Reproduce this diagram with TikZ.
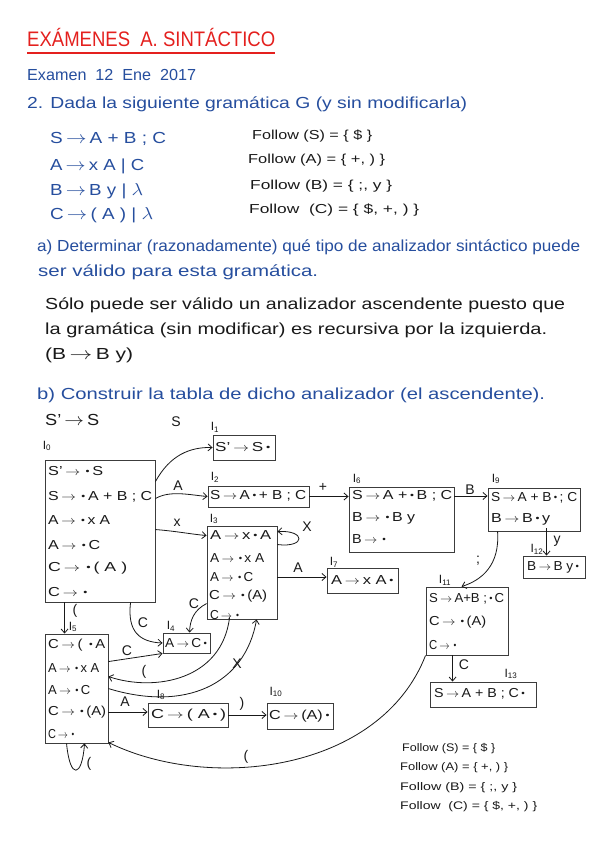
\documentclass[tikz,border=0pt]{standalone}
\usepackage{fontspec}
\setmainfont{Liberation Sans}
\usepackage{graphicx}
\usetikzlibrary{calc,arrows.meta}
\definecolor{tred}{RGB}{228,32,30}
\definecolor{tblue}{RGB}{38,78,158}
\definecolor{ink}{RGB}{25,25,25}
\newcommand\fitw[2]{\resizebox{#1}{\height}{#2}}
\newcommand\ra{\,$\rightarrow$\,}
\newcommand\dt{\,\raisebox{0.15ex}{\scalebox{0.7}{\textbullet}}\,}
\begin{document}
\begin{tikzpicture}[x=1pt,y=-1pt,
  btxt/.style={anchor=west,inner sep=0pt,text=tblue,font=\fontsize{16}{18}\selectfont},
  ktxt/.style={anchor=west,inner sep=0pt,text=ink,font=\fontsize{16}{18}\selectfont},
  ftxt/.style={anchor=west,inner sep=0pt,text=ink,font=\fontsize{13}{15}\selectfont},
  box/.style={draw=ink!85,line width=0.9pt,inner sep=0pt},
  item/.style={anchor=west,inner sep=0pt,text=ink,font=\fontsize{13}{15}\selectfont},
  lab/.style={inner sep=0pt,text=ink,font=\fontsize{12}{14}\selectfont},
  elab/.style={inner sep=0pt,text=ink,font=\fontsize{14}{16}\selectfont},
  edge/.style={draw=ink,line width=0.8pt,-{Straight Barb[length=4pt,width=7pt]}}]
\fill[white] (0,0) rectangle (599,848);
\useasboundingbox (0,0) rectangle (599,848);
% ---------- header ----------
\node[anchor=west,inner sep=0pt,text=tred,font=\fontsize{21}{24}\selectfont] (title) at (27,37) {\fitw{248pt}{EXÁMENES\ \ A. SINTÁCTICO}};
\draw[tred,line width=1.6pt] (title.south west |- 0,53) coordinate (ul1) -- (title.south east |- 0,53) coordinate (ul2);
\node[btxt] (ex) at (27,75) {\fitw{169pt}{Examen \ 12 \ Ene \ 2017}};
\node[btxt] (q2) at (27,104) {\fitw{440pt}{2. Dada la siguiente gramática G (y sin modificarla)}};
\node[btxt] (g1) at (50,139) {\fitw{116pt}{S\ra A + B ; C}};
\node[btxt] (g2) at (50,166) {\fitw{94pt}{A\ra x A | C}};
\node[btxt] (g3) at (50,191) {\fitw{93pt}{B\ra B y | $\lambda$}};
\node[btxt] (g4) at (50,215) {\fitw{103pt}{C\ra ( A ) | $\lambda$}};
\node[ftxt] (f1) at (252,136) {\fitw{120pt}{Follow (S) = \{ \$ \}}};
\node[ftxt] (f2) at (248,160) {\fitw{137pt}{Follow (A) = \{ +, ) \}}};
\node[ftxt] (f3) at (250,186) {\fitw{142pt}{Follow (B) = \{ ;, y \}}};
\node[ftxt] (f4) at (249,210) {\fitw{170pt}{Follow \ (C) = \{ \$, +, ) \}}};
\node[btxt] (qa1) at (37,247) {\fitw{543pt}{a) Determinar (razonadamente) qué tipo de analizador sintáctico puede}};
\node[btxt] (qa2) at (38,272) {\fitw{280pt}{ser válido para esta gramática.}};
\node[ktxt] (ra1) at (45,305) {\fitw{520pt}{Sólo puede ser válido un analizador ascendente puesto que}};
\node[ktxt] (ra2) at (45,330) {\fitw{502pt}{la gramática (sin modificar) es recursiva por la izquierda.}};
\node[ktxt] (ra3) at (45,355) {\fitw{88pt}{(B\ra B y)}};
\node[btxt] (qb) at (37,395) {\fitw{508pt}{b) Construir la tabla de dicho analizador (el ascendente).}};
\node[ktxt] (aug) at (45,420) {\fitw{54pt}{S'\ra S}};
% ---------- boxes ----------
\node[box,minimum width=110pt,minimum height=142pt] (I0) at (100,531) {};
\node[box,minimum width=62pt,minimum height=25pt] (I1) at (244,447.5) {};
\node[box,minimum width=101pt,minimum height=21pt] (I2) at (258.5,496.5) {};
\node[box,minimum width=70pt,minimum height=93pt] (I3) at (242,572.5) {};
\node[box,minimum width=47pt,minimum height=20pt] (I4) at (186.5,643) {};
\node[box,minimum width=63pt,minimum height=109pt] (I5) at (76.5,688.5) {};
\node[box,minimum width=105pt,minimum height=65pt] (I6) at (401.5,519.5) {};
\node[box,minimum width=71pt,minimum height=25pt] (I7) at (362.5,580.5) {};
\node[box,minimum width=80pt,minimum height=24pt] (I8) at (188,715) {};
\node[box,minimum width=92pt,minimum height=43pt] (I9) at (534,509.5) {};
\node[box,minimum width=66pt,minimum height=26pt] (I10) at (300,716) {};
\node[box,minimum width=82pt,minimum height=68pt] (I11) at (467,621) {};
\node[box,minimum width=62pt,minimum height=22pt] (I12) at (554,567) {};
\node[box,minimum width=106pt,minimum height=25pt] (I13) at (483,694.5) {};
% ---------- state labels ----------
\node[lab] (n0) at (47,446) {I\textsubscript{0}};
\node[lab] (n1) at (215,427) {I\textsubscript{1}};
\node[lab] (n2) at (215,477) {I\textsubscript{2}};
\node[lab] (n3) at (214,519) {I\textsubscript{3}};
\node[lab] (n4) at (171,626) {I\textsubscript{4}};
\node[lab] (n5) at (73,627) {I\textsubscript{5}};
\node[lab] (n6) at (357,479) {I\textsubscript{6}};
\node[lab] (n7) at (334,562) {I\textsubscript{7}};
\node[lab] (n8) at (161,695) {I\textsubscript{8}};
\node[lab] (n9) at (496,479) {I\textsubscript{9}};
\node[lab] (n10) at (276,692) {I\textsubscript{10}};
\node[lab] (n11) at (445,580) {I\textsubscript{11}};
\node[lab] (n12) at (537,549) {I\textsubscript{12}};
\node[lab] (n13) at (511,674) {I\textsubscript{13}};
% ---------- items ----------
\node[item] (i0a) at (48,471) {\fitw{55pt}{S'\ra\dt S}};
\node[item] (i0b) at (48,497) {\fitw{104pt}{S\ra\dt A + B ; C}};
\node[item] (i0c) at (48,520) {\fitw{62pt}{A\ra\dt x A}};
\node[item] (i0d) at (48,545) {\fitw{52pt}{A\ra\dt C}};
\node[item] (i0e) at (48,568) {\fitw{79pt}{C\ra\dt ( A )}};
\node[item] (i0f) at (48,592) {\fitw{42pt}{C\ra\dt}};
\node[item] (i1a) at (215,447) {\fitw{58pt}{S'\ra S\dt}};
\node[item] (i2a) at (210,496) {\fitw{96pt}{S\ra A\dt + B ; C}};
\node[item] (i3a) at (210,535) {\fitw{61pt}{A\ra x\dt A}};
\node[item] (i3b) at (210,558) {\fitw{54pt}{A\ra\dt x A}};
\node[item] (i3c) at (210,577) {\fitw{43pt}{A\ra\dt C}};
\node[item] (i3d) at (209,596) {\fitw{58pt}{C\ra\dt (A)}};
\node[item] (i3e) at (210,615) {\fitw{31pt}{C\ra\dt}};
\node[item] (i4a) at (165,643) {\fitw{44pt}{A\ra C\dt}};
\node[item] (i5a) at (48,645) {\fitw{57pt}{C\ra ( \dt A}};
\node[item] (i5b) at (48,668) {\fitw{51pt}{A\ra\dt x A}};
\node[item] (i5c) at (48,690) {\fitw{42pt}{A\ra\dt C}};
\node[item] (i5d) at (48,712) {\fitw{58pt}{C\ra\dt (A)}};
\node[item] (i5e) at (48,734) {\fitw{28pt}{C\ra\dt}};
\node[item] (i6a) at (352,496) {\fitw{100pt}{S\ra A +\dt B ; C}};
\node[item] (i6b) at (352,518) {\fitw{63pt}{B\ra\dt B y}};
\node[item] (i6c) at (352,539) {\fitw{36pt}{B\ra\dt}};
\node[item] (i7a) at (331,580) {\fitw{65pt}{A\ra x A\dt}};
\node[item] (i8a) at (151,715) {\fitw{75pt}{C\ra ( A\dt )}};
\node[item] (i9a) at (491,498) {\fitw{86pt}{S\ra A + B\dt ; C}};
\node[item] (i9b) at (491,519) {\fitw{59pt}{B\ra B\dt y}};
\node[item] (i10a) at (269,716) {\fitw{63pt}{C\ra (A)\dt}};
\node[item] (i11a) at (429,599) {\fitw{75pt}{S\ra A+B ;\dt C}};
\node[item] (i11b) at (429,622) {\fitw{57pt}{C\ra\dt (A)}};
\node[item] (i11c) at (429,645) {\fitw{29pt}{C\ra\dt}};
\node[item] (i12a) at (527,567) {\fitw{54pt}{B\ra B y\dt}};
\node[item] (i13a) at (434,694) {\fitw{93pt}{S\ra A + B ; C\dt}};
% ---------- edges ----------
\draw[edge] ($(I0.north east)+(0,22)$) .. controls (170,455) and (190,447) .. (I1.west);
\node[elab] (eS) at (176,422) {S};
\draw[edge] ($(I0.north east)+(0,39)$) .. controls (170,490) and (190,495) .. (I2.west);
\node[elab] (eA1) at (178,486) {A};
\draw[edge] ($(I0.north east)+(0,70)$) .. controls (175,531) and (190,534) .. ($(I3.north west)+(0,10)$);
\node[elab] (ex1) at (177,523) {x};
\draw[edge] (I2.east) -- (I6.west |- I2.east);
\node[elab] (ep) at (323,487) {+};
\draw[edge] (I6.east |- i6a) -- (I9.west |- i6a);
\node[elab] (eB) at (470,490) {B};
\draw[edge] ($(I9.south west)+(59,-3)$) -- ($(I12.north west)+(24,0)$);
\node[elab] (ey) at (557,541) {y};
\draw[edge] ($(I9.south west)+(10,0)$) .. controls (500,565) and (482,580) .. ($(I11.north west)+(36,0)$);
\node[elab] (esc) at (478,561) {;};
\draw[edge] ($(I11.south west)+(27,0)$) -- ($(I13.north west)+(23,0)$);
\node[elab] (eC5) at (464,665) {C};
\draw[edge] (I11.south west) .. controls (380,772) and (210,792) .. ($(I5.south east)+(0,-1)$);
\node[elab] (ep3) at (246,757) {(};
\draw[edge] ($(I3.north east)+(0,19)$) .. controls (306,548) and (306,530) .. ($(I3.north east)+(0,6)$);
\node[elab] (ex2) at (307,527) {X};
\draw[edge] (I3.east |- i3c) -- (I7.west |- i3c);
\node[elab] (eA2) at (298,568) {A};
\draw[edge] ($(I0.south west)+(86,0)$) .. controls (127,632) and (140,642) .. (I4.west);
\node[elab] (eC1) at (143,623) {C};
\draw[edge] ($(I3.north west)+(0,78)$) .. controls (194,610) and (190,620) .. ($(I4.north west)+(27,0)$);
\node[elab] (eC2) at (194,604) {C};
\draw[edge] ($(I5.north east)+(0,28)$) -- ($(I4.south west)+(0,0)$);
\node[elab] (eC3) at (127,651) {C};
\draw[edge] ($(I3.south west)+(23,-2)$) .. controls (222,680) and (155,692) .. ($(I5.north east)+(0,43)$);
\node[elab] (ep2) at (144,672) {(};
\draw[edge] ($(I5.north east)+(0,55)$) .. controls (185,712) and (245,685) .. ($(I3.south west)+(50,0)$);
\node[elab] (ex3) at (237,664) {X};
\draw[edge] ($(I0.south west)+(20,0)$) -- ($(I5.north west)+(20,0)$);
\node[elab] (ep1) at (75,611) {(};
\draw[edge] (I5.east |- i5d) -- (I8.west |- i5d);
\node[elab] (eA3) at (125,702) {A};
\draw[edge] (I8.east) -- (I10.west |- I8.east);
\node[elab] (ecp) at (242,704) {)};
\draw[edge] ($(I5.south west)+(22,0)$) .. controls (70,780) and (82,778) .. ($(I5.south west)+(40,0)$);
\node[elab] (ep4) at (89,764) {(};
% ---------- follow (bottom) ----------
\node[ftxt,font=\fontsize{11}{13}\selectfont] (b1) at (402,749) {\fitw{93pt}{Follow (S) = \{ \$ \}}};
\node[ftxt,font=\fontsize{11}{13}\selectfont] (b2) at (400,768) {\fitw{108pt}{Follow (A) = \{ +, ) \}}};
\node[ftxt,font=\fontsize{11}{13}\selectfont] (b3) at (400,788) {\fitw{117pt}{Follow (B) = \{ ;, y \}}};
\node[ftxt,font=\fontsize{11}{13}\selectfont] (b4) at (400,807) {\fitw{137pt}{Follow \ (C) = \{ \$, +, ) \}}};
\end{tikzpicture}
\end{document}
